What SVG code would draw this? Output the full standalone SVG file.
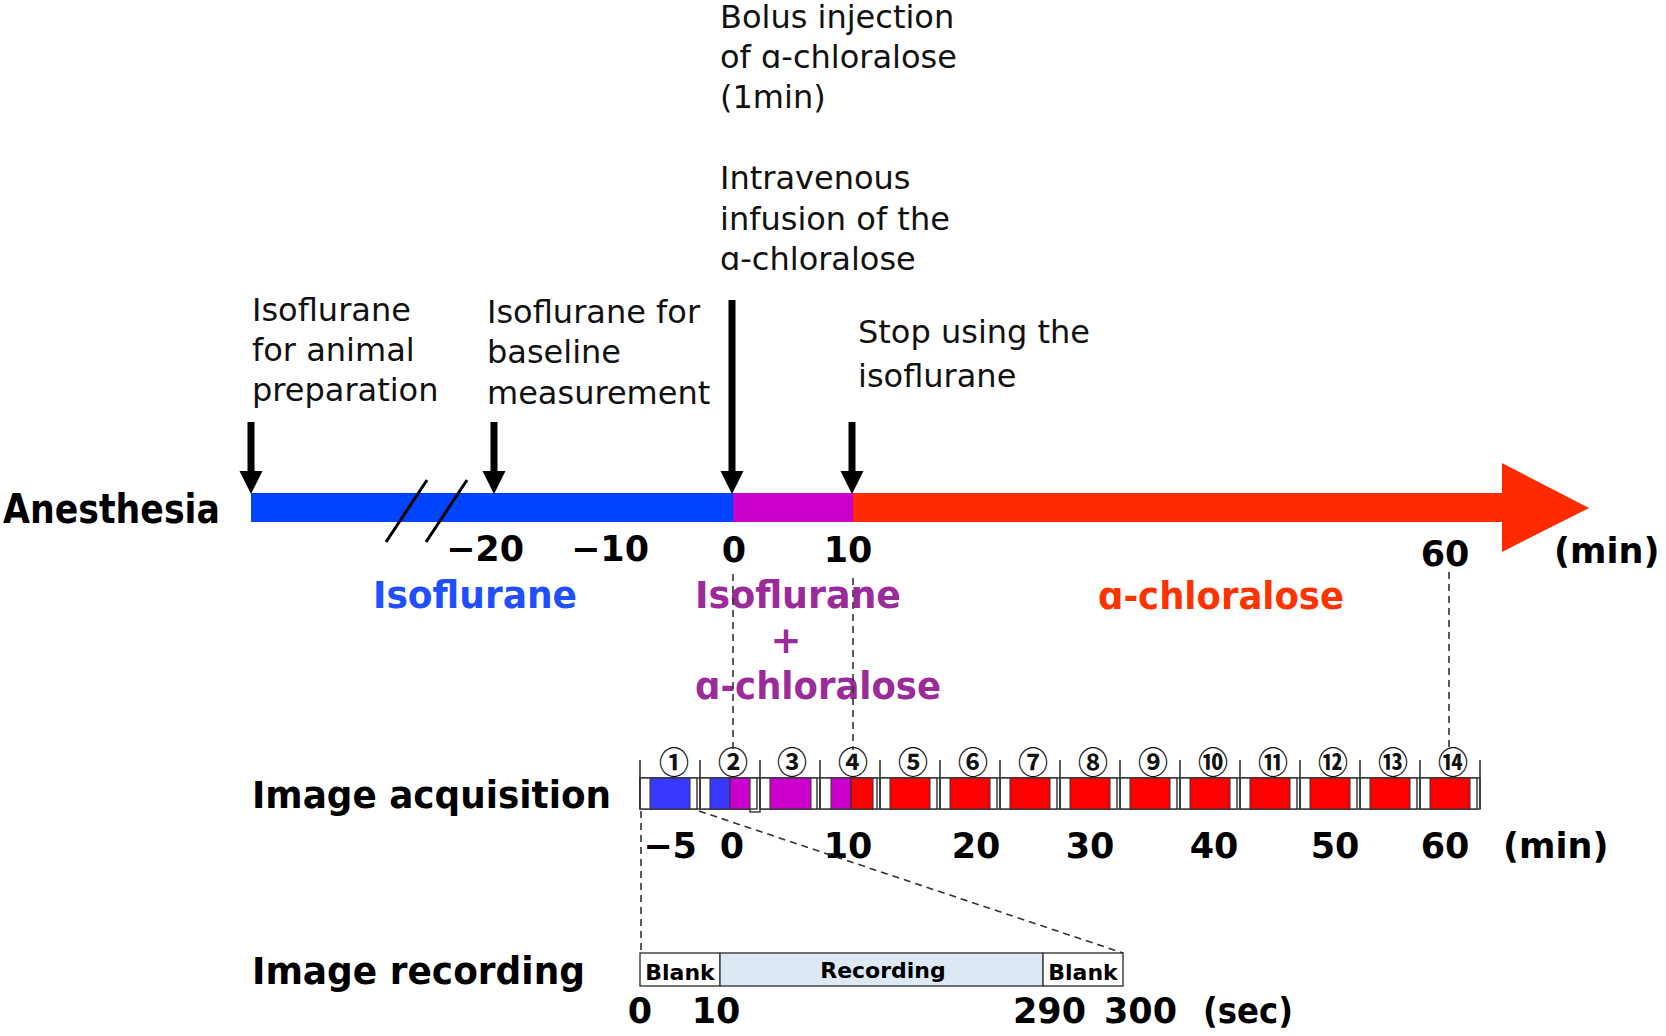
<svg xmlns="http://www.w3.org/2000/svg" width="1666" height="1036" viewBox="0 0 1666 1036">
<defs>
<style>
.t{font-family:"DejaVu Sans",Verdana,sans-serif;font-size:32px;fill:#111}
.b{font-family:"DejaVu Sans","Liberation Sans",sans-serif;font-weight:bold;fill:#000}
.ax{font-size:35px}
.lab{font-size:37px}
.col{font-size:37px}
.cn{font-family:"Noto Sans CJK JP","DejaVu Sans",sans-serif;font-size:30px;font-weight:bold;fill:#111;text-anchor:middle}
.frame{fill:#fff;stroke:#333;stroke-width:1.4}
.blue{fill:#3838ff;stroke:#333;stroke-width:1}
.pur{fill:#cc00cc;stroke:#333;stroke-width:1}
.red{fill:#ff0000;stroke:#333;stroke-width:1}
.dash{stroke:#333;stroke-width:1.6;stroke-dasharray:7 5;fill:none}
.arr{stroke:#000;stroke-width:7;fill:none}
.tick{stroke:#333;stroke-width:1.6}
.rec{stroke:#444;stroke-width:1.5}
</style>
<marker id="ah" markerUnits="userSpaceOnUse" markerWidth="24" markerHeight="24" viewBox="0 0 24 24" refX="1" refY="12" orient="auto">
<path d="M0,0.5 L23,12 L0,23.5 Z" fill="#000"/>
</marker>
</defs>
<rect width="1666" height="1036" fill="#fff"/>

<!-- top annotations -->
<g id="note-bolus">
<text class="t" x="720" y="28">Bolus injection</text>
<text class="t" x="720" y="68">of ɑ-chloralose</text>
<text class="t" x="720" y="108">(1min)</text>
<text class="t" x="720" y="189">Intravenous</text>
<text class="t" x="720" y="230">infusion of the</text>
<text class="t" x="720" y="270">ɑ-chloralose</text>
</g>
<g id="note-prep">
<text class="t" x="252" y="321">Isoflurane</text>
<text class="t" x="252" y="361">for animal</text>
<text class="t" x="252" y="401">preparation</text>
</g>
<g id="note-baseline">
<text class="t" x="487" y="323">Isoflurane for</text>
<text class="t" x="487" y="363">baseline</text>
<text class="t" x="487" y="404">measurement</text>
</g>
<g id="note-stop">
<text class="t" x="858" y="343">Stop using the</text>
<text class="t" x="858" y="387">isoflurane</text>
</g>

<!-- anesthesia timeline -->
<g id="anesthesia">
<text class="b" x="3" y="523" font-size="41" textLength="217" lengthAdjust="spacingAndGlyphs">Anesthesia</text>
<rect x="251" y="493" width="482" height="29" fill="#0044ff"/>
<rect x="733" y="493" width="120" height="29" fill="#cc00cc"/>
<polygon points="853,493 1502,493 1502,463 1589,508 1502,552 1502,522 853,522" fill="#ff2a00"/>
<line x1="386" y1="542" x2="427" y2="480" stroke="#000" stroke-width="3"/>
<line x1="426" y1="542" x2="467" y2="480" stroke="#000" stroke-width="3"/>
</g>
<g id="axis-min">
<text class="b ax" x="446" y="561">−20</text>
<text class="b ax" x="571" y="561">−10</text>
<text class="b ax" x="734" y="562" text-anchor="middle">0</text>
<text class="b ax" x="848" y="562" text-anchor="middle">10</text>
<text class="b ax" x="1445" y="566" text-anchor="middle">60</text>
<text class="b ax" x="1554" y="563">(min)</text>
</g>
<g id="phase-iso">
<text class="b col" x="373" y="608" textLength="204" lengthAdjust="spacingAndGlyphs" style="fill:#1f4fff">Isoflurane</text>
</g>
<g id="phase-mix">
<text class="b col" x="695" y="608" textLength="206" lengthAdjust="spacingAndGlyphs" style="fill:#9b2a9b">Isoflurane</text>
<text class="b col" x="786" y="653" text-anchor="middle" style="fill:#9b2a9b">+</text>
<text class="b col" x="695" y="699" textLength="246" lengthAdjust="spacingAndGlyphs" style="fill:#9b2a9b">ɑ-chloralose</text>
</g>
<g id="phase-chlor">
<text class="b col" x="1098" y="609" textLength="246" lengthAdjust="spacingAndGlyphs" style="fill:#ff3300">ɑ-chloralose</text>
</g>

<!-- image acquisition -->
<g id="image-acquisition">
<text class="b lab" x="252" y="808" textLength="359" lengthAdjust="spacingAndGlyphs">Image acquisition</text>
<rect class="frame" x="640" y="778" width="840" height="31"/>
<rect class="frame" x="750" y="778" width="10" height="34"/>
<g class="frame">
<rect x="640" y="778" width="57" height="31"/><rect x="700" y="778" width="57" height="31"/><rect x="760" y="778" width="57" height="31"/><rect x="820" y="778" width="57" height="31"/><rect x="880" y="778" width="57" height="31"/><rect x="940" y="778" width="57" height="31"/><rect x="1000" y="778" width="57" height="31"/><rect x="1060" y="778" width="57" height="31"/><rect x="1120" y="778" width="57" height="31"/><rect x="1180" y="778" width="57" height="31"/><rect x="1240" y="778" width="57" height="31"/><rect x="1300" y="778" width="57" height="31"/><rect x="1360" y="778" width="57" height="31"/><rect x="1420" y="778" width="57" height="31"/>
</g>
<rect class="blue" x="650" y="778" width="40" height="31"/>
<rect class="blue" x="710" y="778" width="20" height="31"/>
<rect class="pur" x="730" y="778" width="20" height="31"/>
<rect class="pur" x="770" y="778" width="41" height="31"/>
<rect class="pur" x="831" y="778" width="20" height="31"/>
<rect class="red" x="851" y="778" width="22" height="31"/>
<rect class="red" x="890" y="778" width="40" height="31"/>
<rect class="red" x="950" y="778" width="40" height="31"/>
<rect class="red" x="1010" y="778" width="40" height="31"/>
<rect class="red" x="1070" y="778" width="40" height="31"/>
<rect class="red" x="1130" y="778" width="40" height="31"/>
<rect class="red" x="1190" y="778" width="40" height="31"/>
<rect class="red" x="1250" y="778" width="40" height="31"/>
<rect class="red" x="1310" y="778" width="40" height="31"/>
<rect class="red" x="1370" y="778" width="40" height="31"/>
<rect class="red" x="1430" y="778" width="40" height="31"/>
<g class="tick">
<line x1="640" y1="760" x2="640" y2="809"/><line x1="700" y1="760" x2="700" y2="809"/><line x1="760" y1="760" x2="760" y2="809"/><line x1="820" y1="760" x2="820" y2="809"/><line x1="880" y1="760" x2="880" y2="809"/><line x1="940" y1="760" x2="940" y2="809"/><line x1="1000" y1="760" x2="1000" y2="809"/><line x1="1060" y1="760" x2="1060" y2="809"/><line x1="1120" y1="760" x2="1120" y2="809"/><line x1="1180" y1="760" x2="1180" y2="809"/><line x1="1240" y1="760" x2="1240" y2="809"/><line x1="1300" y1="760" x2="1300" y2="809"/><line x1="1360" y1="760" x2="1360" y2="809"/><line x1="1420" y1="760" x2="1420" y2="809"/><line x1="1480" y1="760" x2="1480" y2="809"/>
</g>
<text class="cn" x="674" y="773">①</text>
<text class="cn" x="733" y="773">②</text>
<text class="cn" x="792" y="773">③</text>
<text class="cn" x="853" y="773">④</text>
<text class="cn" x="913" y="773">⑤</text>
<text class="cn" x="973" y="773">⑥</text>
<text class="cn" x="1033" y="773">⑦</text>
<text class="cn" x="1093" y="773">⑧</text>
<text class="cn" x="1153" y="773">⑨</text>
<text class="cn" x="1213" y="773">⑩</text>
<text class="cn" x="1273" y="773">⑪</text>
<text class="cn" x="1333" y="773">⑫</text>
<text class="cn" x="1393" y="773">⑬</text>
<text class="cn" x="1453" y="773">⑭</text>
<g text-anchor="middle">
<text class="b ax" x="670" y="858">−5</text>
<text class="b ax" x="732" y="858">0</text>
<text class="b ax" x="848" y="858">10</text>
<text class="b ax" x="976" y="858">20</text>
<text class="b ax" x="1090" y="858">30</text>
<text class="b ax" x="1214" y="858">40</text>
<text class="b ax" x="1335" y="858">50</text>
<text class="b ax" x="1445" y="858">60</text>
</g>
<text class="b ax" x="1503" y="858">(min)</text>
</g>

<!-- image recording -->
<g id="image-recording">
<text class="b lab" x="252" y="984" textLength="333" lengthAdjust="spacingAndGlyphs">Image recording</text>
<rect class="rec" x="640" y="953" width="80" height="33" fill="#fff"/>
<rect class="rec" x="720" y="953" width="323" height="33" fill="#dde8f5"/>
<rect class="rec" x="1043" y="953" width="80" height="33" fill="#fff"/>
<text class="b" x="680" y="980" font-size="22" text-anchor="middle">Blank</text>
<text class="b" x="883" y="978" font-size="22" text-anchor="middle">Recording</text>
<text class="b" x="1083" y="980" font-size="22" text-anchor="middle">Blank</text>
<text class="b ax" x="640" y="1023" text-anchor="middle">0</text>
<text class="b ax" x="716" y="1023" text-anchor="middle">10</text>
<text class="b ax" x="1013" y="1023">290</text>
<text class="b ax" x="1104" y="1023">300</text>
<text class="b ax" x="1203" y="1023" textLength="90" lengthAdjust="spacingAndGlyphs">(sec)</text>
</g>

<!-- connectors -->
<g id="connectors">
<line class="arr" x1="251" y1="422" x2="251" y2="472" marker-end="url(#ah)"/>
<line class="arr" x1="494" y1="422" x2="494" y2="472" marker-end="url(#ah)"/>
<line class="arr" x1="732" y1="300" x2="732" y2="472" marker-end="url(#ah)"/>
<line class="arr" x1="852" y1="422" x2="852" y2="472" marker-end="url(#ah)"/>
<line class="dash" x1="733" y1="574" x2="733" y2="750"/>
<line class="dash" x1="853" y1="578" x2="853" y2="750"/>
<line class="dash" x1="1449" y1="572" x2="1449" y2="750"/>
<line class="dash" x1="641" y1="811" x2="641" y2="953"/>
<line class="dash" x1="699" y1="811" x2="1123" y2="953"/>
</g>
</svg>
